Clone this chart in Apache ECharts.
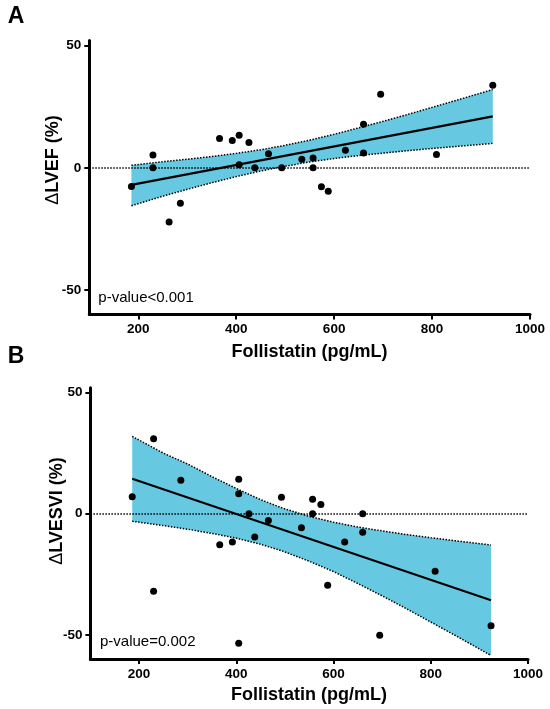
<!DOCTYPE html>
<html>
<head>
<meta charset="utf-8">
<script src="https://cdn.jsdelivr.net/npm/echarts@6/dist/echarts.min.js"></script>
<style>
html,body{margin:0;padding:0;background:#fff;}
#chart{width:550px;height:709px;}
</style>
</head>
<body>
<div id="chart"></div>
<script>
// ---- Data ----
const xTicks = [200, 400, 600, 800, 1000];
const yTicks = [-50, 0, 50];

// Panel A: Follistatin vs ΔLVEF
const xA = [186, 230, 230, 263, 286, 366, 392, 406, 406, 426, 438, 466, 493, 534, 557, 557, 574, 588, 623, 660, 660, 695, 809, 924];
const yA = [-7.6, 5.2, 0, -22.1, -14.5, 12.0, 11.2, 13.3, 1.3, 10.3, 0, 5.7, 0, 3.5, 4.0, 0, -7.7, -9.6, 7.2, 17.8, 6.1, 30.1, 5.4, 33.7];
const fitXA = [186, 924];
const fitYA = [-7.0, 21.0];
const bandXA = [186, 250, 300, 350, 400, 450, 490, 550, 600, 650, 700, 750, 800, 860, 924];
const bandUpA = [1.0, 2.5, 3.5, 4.6, 5.9, 7.4, 8.8, 11.3, 13.7, 16.3, 19.0, 21.8, 24.7, 28.2, 32.0];
const bandLoA = [-15.5, -11.6, -8.8, -6.1, -3.6, -1.3, 0.3, 2.4, 3.8, 5.0, 6.0, 7.0, 7.9, 8.9, 10.0];

// Panel B: Follistatin vs ΔLVESVI
const xB = [186, 230, 230, 286, 366, 392, 405, 405, 405, 426, 438, 466, 493, 534, 557, 557, 574, 588, 623, 660, 660, 695, 809, 924];
const yB = [7.0, 30.9, -32.0, 13.8, -12.8, -11.7, 14.2, 8.2, -53.5, 0, -9.6, -2.8, 6.8, -5.8, 6.0, 0, 3.8, -29.5, -11.7, 0, -7.7, -50.2, -23.7, -46.2];
const fitXB = [186, 924];
const fitYB = [14.4, -35.7];
const bandXB = [186, 250, 300, 350, 400, 450, 495, 550, 600, 650, 700, 750, 800, 860, 924];
const bandUpB = [31.9, 25.0, 20.5, 15.3, 10.4, 5.8, 2.3, -1.1, -3.5, -5.5, -7.1, -8.6, -9.9, -11.4, -12.9];
const bandLoB = [-3.1, -4.9, -6.4, -8.1, -10.1, -12.6, -15.4, -19.6, -23.9, -28.8, -33.9, -39.2, -44.7, -51.3, -58.5];

const panelLetters = ['A', 'B'];
const pLabels = ['p-value<0.001', 'p-value=0.002'];
const xTitle = 'Follistatin (pg/mL)';
const yTitles = ['LVEF (%)', 'LVESVI (%)'];

// ---- Build ----
const FONT = '"Liberation Sans", Arial, Helvetica, sans-serif';
const BAND = '#67c9e1';
const zip = (xs, ys) => xs.map((x, i) => [x, ys[i]]);

function xAxisCfg(gi) {
  return {
    type: 'value', gridIndex: gi, min: 100, max: 1000,
    axisLine: { show: true, onZero: false, lineStyle: { color: '#000', width: 3 } },
    axisTick: { show: true, customValues: xTicks, length: 5, lineStyle: { color: '#000', width: 2 } },
    axisLabel: { customValues: xTicks, margin: 8, color: '#000', fontFamily: FONT, fontWeight: 'bold', fontSize: 13.5,
      formatter: v => String(v) },
    splitLine: { show: false }
  };
}
function yAxisCfg(gi) {
  return {
    type: 'value', gridIndex: gi, min: -60, max: 52,
    axisLine: { show: true, onZero: false, lineStyle: { color: '#000', width: 3 } },
    axisTick: { show: true, customValues: yTicks, length: 5, lineStyle: { color: '#000', width: 2 } },
    axisLabel: { customValues: yTicks, margin: 8, color: '#000', fontFamily: FONT, fontWeight: 'bold', fontSize: 13.5,
      formatter: v => String(v) },
    splitLine: { show: false }
  };
}

function panelSeries(gi, xs, ys, fx, fy, bx, bu, bl) {
  return [
    { // zero reference line
      type: 'line', xAxisIndex: gi, yAxisIndex: gi, data: [], z: 1, silent: true,
      markLine: {
        silent: true, symbol: ['none', 'none'], label: { show: false },
        lineStyle: { type: 'dotted', color: '#000', width: 1.5 },
        data: [{ yAxis: 0 }]
      }
    },
    { // confidence band
      type: 'custom', xAxisIndex: gi, yAxisIndex: gi, z: 2, silent: true,
      data: [[bx[0], bu[0]]],
      renderItem: function (params, api) {
        const pts = [];
        for (let i = 0; i < bx.length; i++) pts.push(api.coord([bx[i], bu[i]]));
        for (let i = bx.length - 1; i >= 0; i--) pts.push(api.coord([bx[i], bl[i]]));
        return { type: 'polygon', shape: { points: pts }, style: { fill: BAND, stroke: null } };
      }
    },
    { type: 'line', xAxisIndex: gi, yAxisIndex: gi, z: 3, data: zip(bx, bu), symbol: 'none', silent: true,
      lineStyle: { type: 'dotted', color: '#000', width: 1.5 } },
    { type: 'line', xAxisIndex: gi, yAxisIndex: gi, z: 3, data: zip(bx, bl), symbol: 'none', silent: true,
      lineStyle: { type: 'dotted', color: '#000', width: 1.5 } },
    { type: 'line', xAxisIndex: gi, yAxisIndex: gi, z: 4, data: zip(fx, fy), symbol: 'none', silent: true,
      lineStyle: { color: '#000', width: 2.2 } },
    { type: 'scatter', xAxisIndex: gi, yAxisIndex: gi, z: 5, data: zip(xs, ys), symbolSize: 7,
      itemStyle: { color: '#000', opacity: 1 } }
  ];
}

function txt(x, y, text, size, weight, opts) {
  return Object.assign({
    type: 'text', x: x, y: y,
    style: { text: text, fill: '#000', fontFamily: FONT, fontSize: size, fontWeight: weight,
      align: 'center', verticalAlign: 'middle' }
  }, opts || {});
}
function yTitle(x, y, t) {
  return {
    type: 'text', x: x, y: y, rotation: Math.PI / 2,
    style: {
      text: '{d|Δ}' + t, fill: '#000', fontFamily: FONT, fontSize: 18, fontWeight: 'bold',
      align: 'center', verticalAlign: 'middle',
      rich: { d: { fontFamily: FONT, fontSize: 18, fontWeight: 'normal', fill: '#000' } }
    }
  };
}

const option = {
  animation: false,
  backgroundColor: '#fff',
  grid: [
    { left: 89.3, right: 20, top: 40.6, height: 274 },
    { left: 90.4, right: 22, top: 387.7, height: 271.4 }
  ],
  xAxis: [xAxisCfg(0), xAxisCfg(1)],
  yAxis: [yAxisCfg(0), yAxisCfg(1)],
  series: [].concat(
    panelSeries(0, xA, yA, fitXA, fitYA, bandXA, bandUpA, bandLoA),
    panelSeries(1, xB, yB, fitXB, fitYB, bandXB, bandUpB, bandLoB)
  ),
  graphic: [
    txt(16, 17, panelLetters[0], 23, 'bold'),
    txt(16, 357, panelLetters[1], 23, 'bold'),
    txt(309.5, 352, xTitle, 18, 'bold'),
    txt(309, 695.5, xTitle, 18, 'bold'),
    yTitle(53.3, 160, yTitles[0]),
    yTitle(57.5, 511, yTitles[1]),
    { type: 'text', x: 98.3, y: 298, style: { text: pLabels[0], fill: '#000', fontFamily: FONT, fontSize: 15, align: 'left', verticalAlign: 'middle' } },
    { type: 'text', x: 100, y: 642, style: { text: pLabels[1], fill: '#000', fontFamily: FONT, fontSize: 15, align: 'left', verticalAlign: 'middle' } }
  ]
};

const chart = echarts.init(document.getElementById('chart'), null, { renderer: 'canvas' });
chart.setOption(option);
</script>
</body>
</html>
